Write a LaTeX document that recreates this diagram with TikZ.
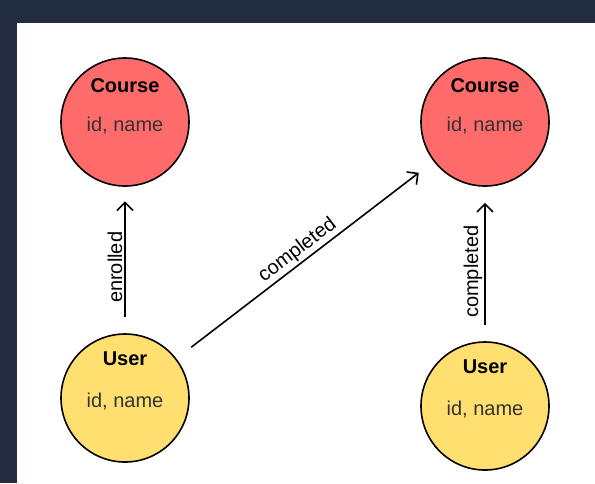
\documentclass[tikz,border=0pt]{standalone}
\usepackage{fontspec}
\setmainfont{Liberation Sans}
\usepackage{xcolor}
\usetikzlibrary{arrows.meta}

\definecolor{pagebg}{HTML}{222E3F}
\definecolor{coursered}{HTML}{FF6B6B}
\definecolor{useryellow}{HTML}{FFDF70}

\tikzset{
  entity/.style={circle, draw, line width=1.2pt, minimum size=96pt, inner sep=0pt},
  title/.style={font=\fontsize{15}{18}\selectfont\bfseries},
  attrs/.style={font=\fontsize{15}{18}\selectfont, text=black!80},
  rel/.style={font=\fontsize{15}{18}\selectfont, sloped, above, inner sep=1.5pt}
}

\begin{document}
\begin{tikzpicture}[x=0.75pt, y=-0.75pt, - > , >= {Straight Barb[length=6pt, width=12pt]}, line width =1.2 pt]
   \fill [pagebg] (0 , 0) rectangle (595 , 483);
   \fill [white] (17 , 23) rectangle (595 , 483);
   \useasboundingbox (0 , 0) rectangle (595 , 483);

   \node [entity, fill=coursered] (course1) at (125 , 122) {};
   \node [entity, fill=coursered] (course2) at (485 , 122) {};
   \node [entity, fill=useryellow] (user1) at (125 , 398) {};
   \node [entity, fill=useryellow] (user2) at (485 , 406) {};

   \node [title] (course1title) at (125 , 86) {Course};
   \node [attrs] (course1attrs) at (125 , 126) {id, name};
   \node [title] (course2title) at (485 , 86) {Course};
   \node [attrs] (course2attrs) at (485 , 126) {id, name};
   \node [title] (user1title) at (125 , 359) {User};
   \node [attrs] (user1attrs) at (125 , 402) {id, name};
   \node [title] (user2title) at (485 , 367) {User};
   \node [attrs] (user2attrs) at (485 , 410) {id, name};

   \path (user1) edge [shorten <=12.5pt, shorten >=11pt] node [rel, pos=0.45] {enrolled} (course1) ;
   \path (user1) edge [shorten <=14pt, shorten >=14pt] node [rel] {completed} (course2) ;
   \path (user2) edge [shorten <=12pt, shorten >=12pt] node [rel, pos=0.45] {completed} (course2) ;
\end{tikzpicture}
\end{document}
